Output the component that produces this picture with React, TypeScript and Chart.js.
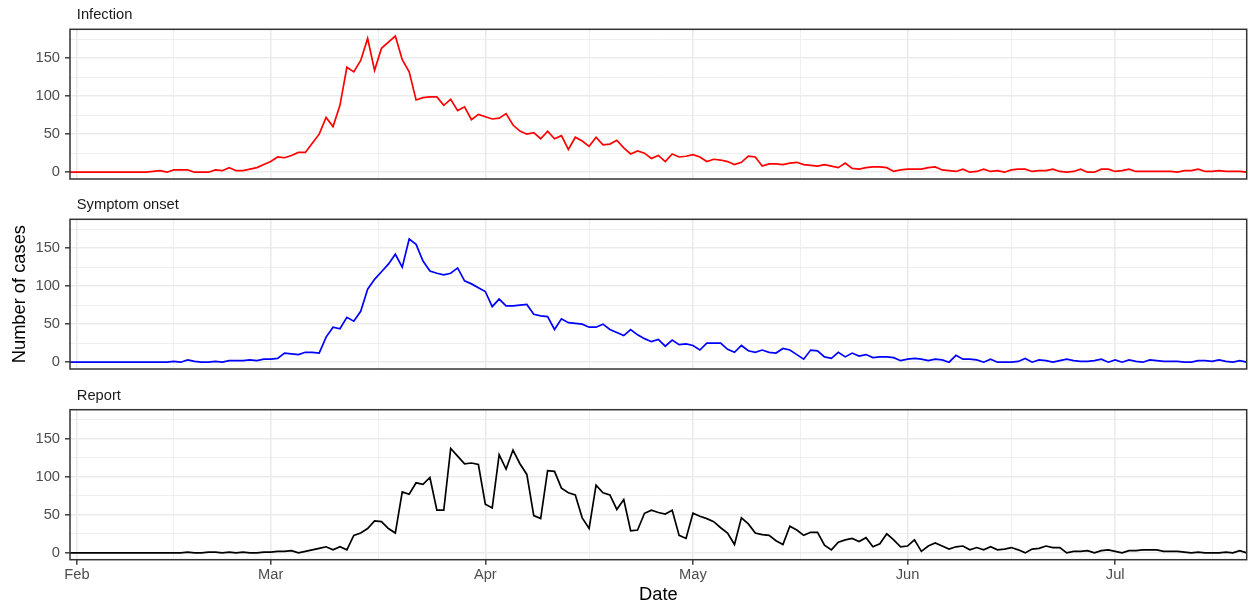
import React, { useEffect, useRef } from 'react';
import { Chart, registerables } from 'chart.js';
Chart.register(...registerables);

// ---------- data ----------
// daily counts, first value = 2021-01-31, last value = 2021-07-20
const firstDate = '2021-01-31';
const lastDate = '2021-07-20';

const monthLabels = ['Feb', 'Mar', 'Apr', 'May', 'Jun', 'Jul'];
const monthStarts = ['2021-02-01', '2021-03-01', '2021-04-01', '2021-05-01', '2021-06-01', '2021-07-01'];

const yTickLabels = [0, 50, 100, 150];

const panelTitles = ['Infection', 'Symptom onset', 'Report'];
const seriesColors = ['#FF0000', '#0000FF', '#000000'];

const infection = [
  0, 0, 0, 0, 0, 0, 0, 0, 0, 0, 0, 0,
  1, 2, 0, 3, 3, 3, 0, 0, 0, 3,
  2, 6, 2, 2, 4, 6, 10, 14, 20, 19,
  22, 26, 26, 38, 50, 72, 60, 88, 138, 132,
  147, 176, 134, 163, 171, 179, 148, 132, 95, 98,
  99, 99, 88, 96, 81, 86, 69, 76, 73, 70,
  71, 77, 62, 54, 50, 52, 44, 54, 44, 48,
  30, 46, 41, 34, 46, 36, 37, 42, 32, 24,
  28, 25, 18, 22, 14, 24, 20, 21, 23, 20,
  14, 17, 16, 14, 10, 13, 21, 20, 8, 11,
  11, 10, 12, 13, 10, 9, 8, 10, 8, 6,
  12, 5, 4, 6, 7, 7, 6, 1, 3, 4,
  4, 4, 6, 7, 3, 2, 1, 4, 0, 1,
  4, 1, 2, 0, 3, 4, 4, 1, 2, 2,
  4, 1, 0, 1, 4, 0, 0, 4, 4, 1,
  2, 4, 1, 1, 1, 1, 1, 1, 0, 2,
  2, 4, 1, 1, 2, 1, 1, 1, 0,
];

const symptomOnset = [
  0, 0, 0, 0, 0, 0, 0, 0, 0, 0, 0, 0, 0, 0, 0,
  1, 0, 3, 1, 0, 0, 1, 0, 2, 2,
  2, 3, 2, 4, 4, 5, 12, 11, 10, 13,
  13, 12, 33, 46, 44, 59, 54, 67, 96, 109,
  119, 129, 142, 125, 162, 155, 133, 120, 117, 115,
  117, 124, 107, 103, 98, 93, 73, 83, 74, 74,
  75, 76, 63, 61, 60, 43, 57, 52, 51, 50,
  46, 46, 50, 43, 39, 35, 43, 36, 31, 27,
  30, 21, 29, 23, 24, 22, 16, 25, 25, 25,
  17, 13, 22, 15, 13, 16, 13, 12, 18, 16,
  10, 4, 16, 15, 7, 5, 13, 7, 12, 8,
  10, 6, 7, 7, 6, 2, 4, 5, 4, 2,
  4, 3, 0, 9, 4, 4, 3, 0, 4, 0,
  0, 0, 1, 5, 0, 3, 2, 0, 2, 4,
  2, 1, 1, 2, 4, 0, 3, 0, 3, 1,
  0, 3, 2, 1, 1, 1, 0, 0, 2, 2,
  1, 3, 1, 0, 2, 0,
];

const report = [
  0, 0, 0, 0, 0, 0, 0, 0, 0, 0, 0, 0, 0, 0, 0, 0, 0,
  1, 0, 0, 1, 1, 0, 1, 0, 1, 0,
  0, 1, 1, 2, 2, 3, 0, 2, 4, 6,
  8, 4, 8, 4, 23, 26, 32, 42, 41, 32,
  26, 80, 77, 92, 90, 99, 56, 56, 137, 127,
  117, 118, 116, 64, 59, 129, 110, 135, 117, 103,
  49, 45, 108, 107, 85, 79, 76, 46, 32, 89,
  79, 76, 57, 70, 29, 30, 52, 56, 53, 51,
  56, 23, 19, 52, 48, 45, 41, 33, 26, 11,
  46, 38, 26, 24, 23, 16, 11, 35, 30, 23,
  27, 27, 10, 4, 14, 17, 19, 15, 20, 8,
  12, 25, 17, 8, 9, 17, 2, 9, 13, 9,
  5, 8, 9, 4, 7, 4, 8, 4, 5, 7,
  4, 0, 5, 6, 9, 7, 7, 0, 2, 2,
  3, 0, 3, 4, 2, 0, 3, 3, 4, 4,
  4, 2, 2, 2, 1, 0, 1, 0, 0, 0,
  1, 0, 3, 0,
];

const seriesValues = [infection, symptomOnset, report];

// ---------- helpers ----------
const DAY = 86400000;
const dayIndex = (s: string) => Math.round((Date.parse(s) - Date.parse(firstDate)) / DAY);
const xMin = 0;
const xMax = dayIndex(lastDate);
const xMajor = monthStarts.map(dayIndex);
// ggplot-style minor breaks: midpoints, extended with the first break spacing
const xMinorRaw: number[] = [];
{
  const step = xMajor[1] - xMajor[0];
  const ext = [xMajor[0] - step, ...xMajor, xMajor[xMajor.length - 1] + step];
  for (let i = 0; i < ext.length - 1; i++) xMinorRaw.push((ext[i] + ext[i + 1]) / 2);
}
const xMinor = xMinorRaw.filter((v) => v >= xMin && v <= xMax);
const xAllTicks = [...xMajor, ...xMinor].sort((a, b) => a - b);

const dataMax = Math.max(...infection, ...symptomOnset, ...report);
const yMin = -0.05 * dataMax;
const yMax = dataMax * 1.05;
const yAllTicks: number[] = [];
for (let v = 0; v <= yMax; v += 25) yAllTicks.push(v);

// ---------- layout ----------
const W = 1249;
const PANEL_LEFT = 70;
const PANEL_RIGHT = 1246.7;
const canvases = [
  { top: 0, h: 185, panelTop: 29.3, panelBottom: 179 },
  { top: 190, h: 185, panelTop: 219.3, panelBottom: 369 },
  { top: 380, h: 229, panelTop: 409.7, panelBottom: 559.7 },
];

const FONT = '"Liberation Sans", Arial, Helvetica, sans-serif';
Chart.defaults.font.family = FONT;

const panelPlugin = {
  id: 'panelDecor',
  afterDraw(chart: any, _args: any, opts: any) {
    const { ctx, chartArea: a } = chart;
    ctx.save();
    ctx.strokeStyle = '#333333';
    ctx.lineWidth = 1.5;
    ctx.strokeRect(a.left, a.top, a.right - a.left, a.bottom - a.top);
    ctx.fillStyle = '#1A1A1A';
    ctx.font = `14.7px ${FONT}`;
    ctx.textAlign = 'left';
    ctx.textBaseline = 'alphabetic';
    ctx.fillText(opts.title, a.left + 6.8, a.top - 10);
    ctx.restore();
  },
};

function makeConfig(i: number): any {
  const c = canvases[i];
  const isBottom = i === 2;
  const padTop = c.panelTop - c.top;
  const xHeight = c.h - (c.panelBottom - c.top);
  const isXMajor = (v: number) => xMajor.includes(v);
  const isYMajor = (v: number) => yTickLabels.includes(v);
  return {
    type: 'line',
    data: {
      datasets: [
        {
          label: panelTitles[i],
          data: seriesValues[i].map((v, k) => ({ x: k, y: v })),
          borderColor: seriesColors[i],
          borderWidth: 1.7,
          pointRadius: 0,
          pointHoverRadius: 0,
          tension: 0,
          fill: false,
        },
      ],
    },
    options: {
      animation: false,
      responsive: false,
      devicePixelRatio: 1,
      events: [],
      layout: { padding: { top: padTop, left: 0, right: W - PANEL_RIGHT, bottom: 0 } },
      plugins: {
        legend: { display: false },
        tooltip: { enabled: false },
        panelDecor: { title: panelTitles[i] },
      },
      scales: {
        x: {
          type: 'linear',
          min: xMin,
          max: xMax,
          afterBuildTicks: (s: any) => {
            s.ticks = xAllTicks.map((v) => ({ value: v }));
          },
          afterFit: (s: any) => {
            s.height = xHeight;
            s.paddingLeft = 0;
            s.paddingRight = 0;
            s.paddingTop = 0;
            s.paddingBottom = 0;
          },
          border: { display: false },
          grid: {
            color: '#EBEBEB',
            lineWidth: (ctx: any) => (ctx.tick && isXMajor(ctx.tick.value) ? 1.6 : 0.8),
            drawTicks: isBottom,
            tickLength: 5,
            tickColor: (ctx: any) => (ctx.tick && isXMajor(ctx.tick.value) ? '#333333' : 'rgba(0,0,0,0)'),
            tickWidth: 1.4,
          },
          ticks: {
            display: isBottom,
            autoSkip: false,
            maxRotation: 0,
            padding: 1,
            color: '#4D4D4D',
            font: { size: 14.7, family: FONT },
            callback: (v: number) => {
              const k = xMajor.indexOf(v);
              return k >= 0 ? monthLabels[k] : '';
            },
          },
          title: {
            display: isBottom,
            text: 'Date',
            color: '#000000',
            font: { size: 18.3, family: FONT },
            padding: { top: 0, bottom: 2.7 },
          },
        },
        y: {
          type: 'linear',
          min: yMin,
          max: yMax,
          afterBuildTicks: (s: any) => {
            s.ticks = yAllTicks.map((v) => ({ value: v }));
          },
          afterFit: (s: any) => {
            s.width = PANEL_LEFT;
            s.paddingLeft = 0;
            s.paddingRight = 0;
            s.paddingTop = 0;
            s.paddingBottom = 0;
          },
          border: { display: false },
          grid: {
            color: '#EBEBEB',
            lineWidth: (ctx: any) => (ctx.tick && isYMajor(ctx.tick.value) ? 1.6 : 0.8),
            drawTicks: true,
            tickLength: 5,
            tickColor: (ctx: any) => (ctx.tick && isYMajor(ctx.tick.value) ? '#333333' : 'rgba(0,0,0,0)'),
            tickWidth: 1.4,
          },
          ticks: {
            autoSkip: false,
            padding: 5,
            color: '#4D4D4D',
            font: { size: 14.7, family: FONT },
            callback: (v: number) => (isYMajor(v) ? String(v) : ''),
          },
          title: {
            display: i === 1,
            text: 'Number of cases',
            color: '#000000',
            font: { size: 18.3, family: FONT },
            padding: { top: 8.6, bottom: 0 },
          },
        },
      },
    },
    plugins: [panelPlugin],
  };
}

export default function App() {
  const r0 = useRef<HTMLCanvasElement>(null);
  const r1 = useRef<HTMLCanvasElement>(null);
  const r2 = useRef<HTMLCanvasElement>(null);
  const refs = [r0, r1, r2];

  useEffect(() => {
    const charts = refs.map((r, i) => new Chart(r.current as HTMLCanvasElement, makeConfig(i)));
    return () => charts.forEach((c) => c.destroy());
  }, []);

  return (
    <div style={{ position: 'absolute', left: 0, top: 0, width: W, height: 609, background: '#ffffff' }}>
      {canvases.map((c, i) => (
        <canvas
          key={i}
          ref={refs[i]}
          width={W}
          height={c.h}
          style={{ position: 'absolute', left: 0, top: c.top, width: W, height: c.h }}
        />
      ))}
    </div>
  );
}
